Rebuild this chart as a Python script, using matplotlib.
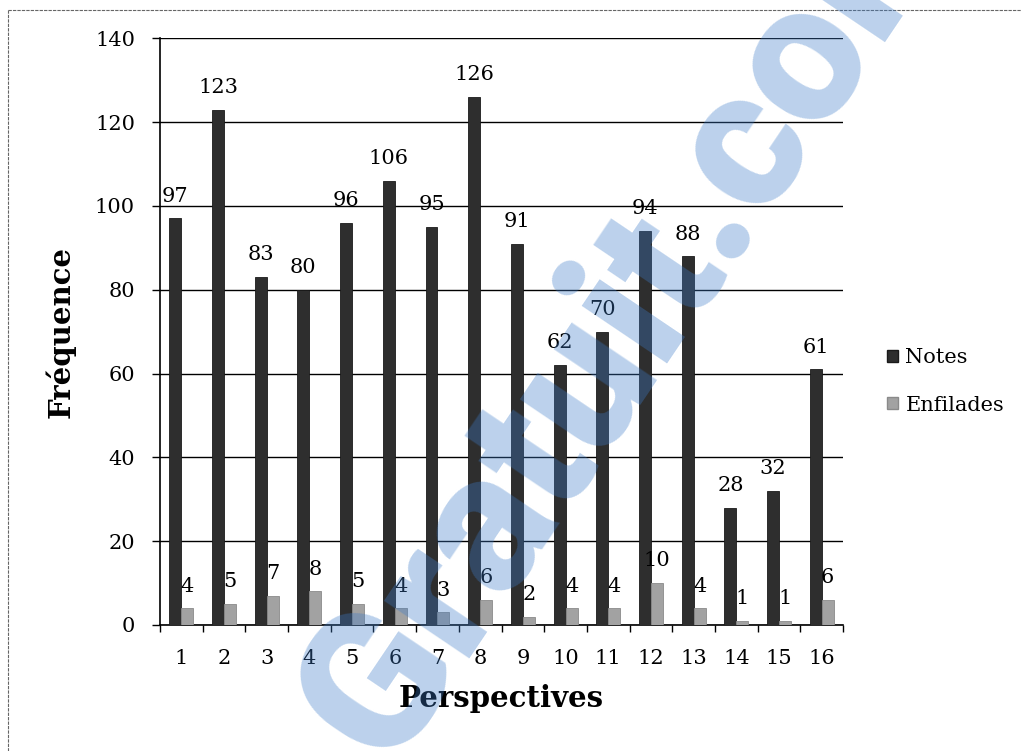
import matplotlib
matplotlib.use("Agg")
import matplotlib.pyplot as plt
import numpy as np
from matplotlib.lines import Line2D
from matplotlib.patches import Patch

# Data
perspectives = [str(i) for i in range(1, 17)]
notes = [97, 123, 83, 80, 96, 106, 95, 126, 91, 62, 70, 94, 88, 28, 32, 61]
enfilades = [4, 5, 7, 8, 5, 4, 3, 6, 2, 4, 4, 10, 4, 1, 1, 6]
y_ticks = [0, 20, 40, 60, 80, 100, 120, 140]

plt.rcParams["font.family"] = ["DejaVu Serif"]

fig = plt.figure(figsize=(10.21, 7.51), dpi=100)
ax = fig.add_axes([0.1567, 0.1678, 0.6690, 0.7812])

x = np.arange(len(perspectives))
w = 0.28
notes_color, notes_edge = "#2e2e2e", "#1a1a1a"
enf_color, enf_edge = "#a2a2a2", "#8a8a8a"
b1 = ax.bar(x - w / 2, notes, width=w, color=notes_color, edgecolor=notes_edge,
            linewidth=0.6, label="Notes", zorder=3)
b2 = ax.bar(x + w / 2, enfilades, width=w, color=enf_color, edgecolor=enf_edge,
            linewidth=0.6, label="Enfilades", zorder=3)

for bars, vals in ((b1, notes), (b2, enfilades)):
    for rect, v in zip(bars, vals):
        ax.annotate(str(v), (rect.get_x() + rect.get_width() / 2, v),
                    xytext=(0, 12), textcoords="offset points",
                    ha="center", va="baseline", fontsize=15, zorder=4)

ax.set_xlim(-0.5, len(perspectives) - 0.5)
ax.set_ylim(0, 140)
ax.set_yticks(y_ticks)
ax.set_yticklabels([str(t) for t in y_ticks], fontsize=15)
ax.yaxis.grid(True, color="black", linewidth=1.0, zorder=0)
ax.set_axisbelow(True)

ax.set_xticks(x)
ax.set_xticklabels(perspectives, fontsize=15)
ax.set_xticks(np.arange(-0.5, len(perspectives)), minor=True)
ax.tick_params(axis="x", which="major", length=0, pad=17)
ax.tick_params(axis="x", which="minor", length=5, width=1, color="black", direction="out")
ax.tick_params(axis="y", length=6, width=1, pad=12, color="black")

for side in ("top", "right"):
    ax.spines[side].set_visible(False)
ax.spines["left"].set_linewidth(1.2)
ax.spines["bottom"].set_linewidth(1.2)

ax.set_xlabel("Perspectives", fontsize=21, fontweight="bold", labelpad=12)
ax.set_ylabel("Fréquence", fontsize=21, fontweight="bold", labelpad=14)

handles = [Patch(facecolor=notes_color, edgecolor=notes_edge),
           Patch(facecolor=enf_color, edgecolor=enf_edge)]
fig.legend(handles, ["Notes", "Enfilades"], loc="center left",
           bbox_to_anchor=(0.850, 0.492), frameon=False, fontsize=15,
           handlelength=0.55, handleheight=0.55, handletextpad=0.35,
           labelspacing=1.35)

# Thin page frame at top and left
fig.add_artist(Line2D([0.008, 1.0], [0.987, 0.987], transform=fig.transFigure,
                      color="#666666", linewidth=0.8, linestyle=(0, (3, 1))))
fig.add_artist(Line2D([0.008, 0.008], [0.0, 0.987], transform=fig.transFigure,
                      color="#666666", linewidth=0.8, linestyle=(0, (3, 1))))

# Site watermark across the chart
fig.text(0.622, 0.592, "Gratuit.com", rotation=56, fontsize=140,
         fontweight="black", family="Roboto", color="#3d7cc9", alpha=0.35,
         ha="center", va="center", rotation_mode="anchor", zorder=10)

fig.savefig("out.png", dpi=100)
